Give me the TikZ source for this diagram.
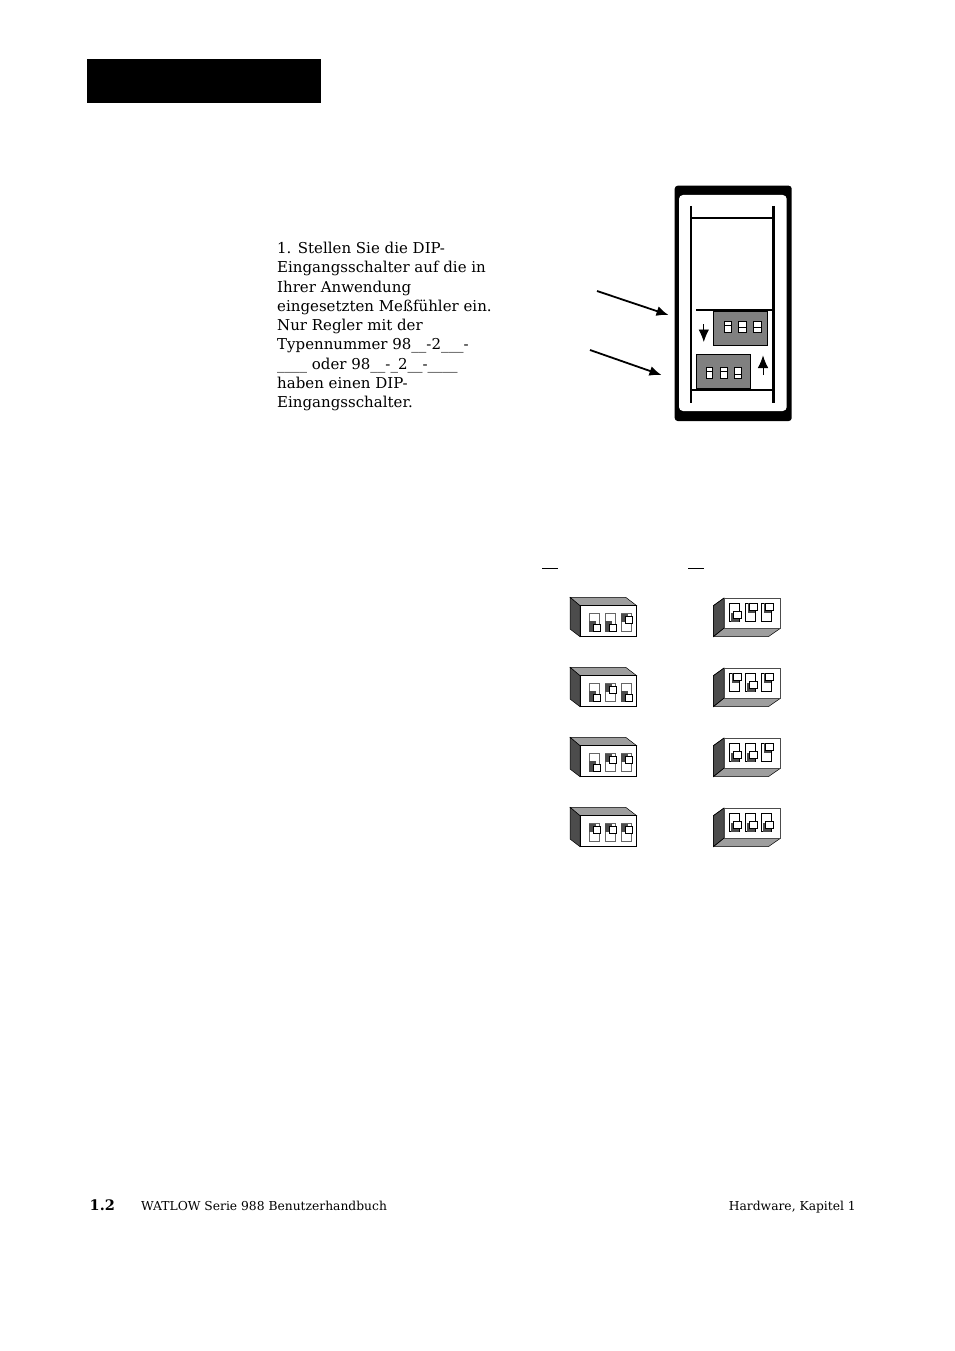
\documentclass[tikz,border=0pt]{standalone}
\usepackage{fontspec}
\setmainfont{DejaVu Serif}
\usetikzlibrary{arrows.meta}
\definecolor{panelgray}{gray}{0.5}
\definecolor{sidegray}{gray}{0.3}
\definecolor{facegray}{gray}{0.62}
\definecolor{slotgray}{gray}{0.4}
\tikzset{
  body/.style={font=\fontsize{15bp}{19.25bp}\selectfont,anchor=north west,inner sep=0pt,align=left},
  foot/.style={font=\fontsize{12.3bp}{14bp}\selectfont,anchor=base west,inner sep=0pt},
  rail/.style={line width=2bp},
  railthick/.style={line width=2.6bp},
  pointer/.style={line width=1.8bp,-{Latex[length=12bp,width=10bp]}},
  updown/.style={line width=0.8bp,-{Latex[length=12.5bp,width=10.5bp]}},
  minislot/.style={draw=black,fill=white,line width=0.8bp},
  dipface/.style={draw=black,fill=white,line width=0.7bp},
  dipslot/.style={draw=slotgray,fill=white,line width=0.9bp},
  diptop/.style={fill=facegray,draw=black,line width=0.5bp},
  dipside/.style={fill=sidegray,draw=black,line width=0.5bp}
}
% left type: #1,#2 = origin; #3,#4,#5 = 0 down / 1 up
\newcommand{\dipleft}[5]{%
 \begin{scope}[shift={(#1,#2)}]
  \fill[diptop] (0,0) -- (55.7,0) -- (66.7,8.4) -- (10,8.4) -- cycle;
  \fill[dipside] (0,0) -- (10,8.4) -- (10,39.4) -- (0,31.7) -- cycle;
  \draw[dipface] (10,8.4) rectangle (66.7,39.4);
  \foreach \k/\s in {0/#3,1/#4,2/#5}{
   \begin{scope}[xshift=\k*16bp]
    \draw[dipslot] (19.3,16.4) rectangle (29,34.4);
    \ifnum\s=1
     \fill[sidegray] (19.3,16.4) rectangle (26,25);
     \draw[black,line width=1bp,fill=white] (23,19) rectangle (30,26);
    \else
     \fill[sidegray] (19.3,24) rectangle (26,34.4);
     \draw[black,line width=1bp,fill=white] (23,27.2) rectangle (30.3,34.4);
    \fi
   \end{scope}}
 \end{scope}}
% right type
\newcommand{\dipright}[5]{%
 \begin{scope}[shift={(#1,#2)}]
  \fill[facegray] (0,31) -- (10.7,22.4) -- (67.4,22.4) -- (55,31) -- cycle;
  \draw[black,line width=0.5bp] (0,31) -- (55,31) -- (67.4,22.4);
  \fill[dipside] (0,0) -- (10.7,-7.7) -- (10.7,22.4) -- (0,31) -- cycle;
  \draw[black,line width=0.5bp] (0,0) -- (10.7,-7.7) (0,0) -- (0,31) -- (10.7,22.4);
  \draw[dipface,draw=black!70] (10.7,-7.7) rectangle (67.4,22.4);
  \foreach \k/\s in {0/#3,1/#4,2/#5}{
   \begin{scope}[xshift=\k*16bp]
    \draw[dipslot,draw=black] (16.4,-2.4) rectangle (26,16);
    \ifnum\s=1
     \fill[sidegray] (18.5,-2.4) rectangle (26,7);
     \draw[black,line width=1bp,fill=white] (20.4,-2.4) rectangle (28,4.3);
    \else
     \fill[sidegray] (17.5,7) rectangle (26,16);
     \draw[black,line width=1bp,fill=white] (20.4,5.3) rectangle (28,12.6);
    \fi
   \end{scope}}
 \end{scope}}
\begin{document}
\begin{tikzpicture}[x=1bp,y=-1bp]
\useasboundingbox (0,0) rectangle (954,1351);
% header bar
\fill[black] (87,59) rectangle (321,103);
% instruction text
\node[body] (steptext) at (277,242) {1. Stellen Sie die DIP-\\
Eingangsschalter auf die in\\
Ihrer Anwendung\\
eingesetzten Meßfühler ein.\\
Nur Regler mit der\\
Typennummer 98\_\_-2\_\_\_-\\
\_\_\_\_ oder 98\_\_-\_2\_\_-\_\_\_\_\\
haben einen DIP-\\
Eingangsschalter.};
% device
\fill[black,rounded corners=3bp] (674.7,185.7) rectangle (791.7,421);
\fill[white,rounded corners=4bp] (679,195) rectangle (786.7,411);
\draw[rail] (691,206) -- (691,403);
\draw[railthick] (773.3,206) -- (773.3,403);
\draw[rail] (691,218) -- (773.3,218);
\draw[rail] (696,310) -- (773.3,310);
\draw[rail] (691,390) -- (773.3,390);
\draw[draw=black,fill=panelgray,line width=0.8bp] (713.3,311) rectangle (767.7,345.3);
\draw[draw=black,fill=panelgray,line width=0.8bp] (696.3,354.3) rectangle (750.7,388.3);
\foreach \x/\d in {724.3/325,738.7/327,753.7/327}{
  \draw[minislot] (\x,321.7) rectangle ++(7.3,10.6);
  \draw[line width=0.8bp] (\x,\d) -- ++(7.3,0);
}
\foreach \x/\d in {706/371.5,720.7/371.5,734.7/374.5}{
  \draw[minislot] (\x,367.3) rectangle ++(6.7,10.7);
  \draw[line width=0.8bp] (\x,\d) -- ++(6.7,0);
}
\coordinate (downA) at (703.8,324);
\coordinate (downB) at (703.8,342);
\coordinate (upA) at (763,375);
\coordinate (upB) at (763,355.5);
\draw[updown] (downA) -- (downB);
\draw[updown] (upA) -- (upB);
% pointers
\coordinate (ptrA) at (597,291);
\coordinate (ptrAend) at (668.5,315);
\coordinate (ptrB) at (590,350);
\coordinate (ptrBend) at (661.5,375);
\draw[pointer] (ptrA) -- (ptrAend);
\draw[pointer] (ptrB) -- (ptrBend);
% column rules
\coordinate (ruleA) at (542,568);
\coordinate (ruleAend) at (558,568);
\coordinate (ruleB) at (688,568);
\coordinate (ruleBend) at (704,568);
\draw[line width=1bp] (ruleA) -- (ruleAend);
\draw[line width=1bp] (ruleB) -- (ruleBend);
% DIP switches
\dipleft{570}{597.3}{0}{0}{1}
\dipleft{570}{667.3}{0}{1}{0}
\dipleft{570}{737.3}{0}{1}{1}
\dipleft{570}{807.3}{1}{1}{1}
\dipright{713.3}{605.7}{0}{1}{1}
\dipright{713.3}{675.7}{1}{0}{1}
\dipright{713.3}{745.7}{0}{0}{1}
\dipright{713.3}{815.7}{0}{0}{0}
% footer
\node[foot,font=\fontsize{14.5bp}{16bp}\selectfont\bfseries] (pagenum) at (89.5,1210) {1.2};
\node[foot] (footleft) at (141,1210) {WATLOW Serie 988 Benutzerhandbuch};
\node[foot,anchor=base east] (footright) at (856,1210) {Hardware, Kapitel 1};
\end{tikzpicture}
\end{document}
